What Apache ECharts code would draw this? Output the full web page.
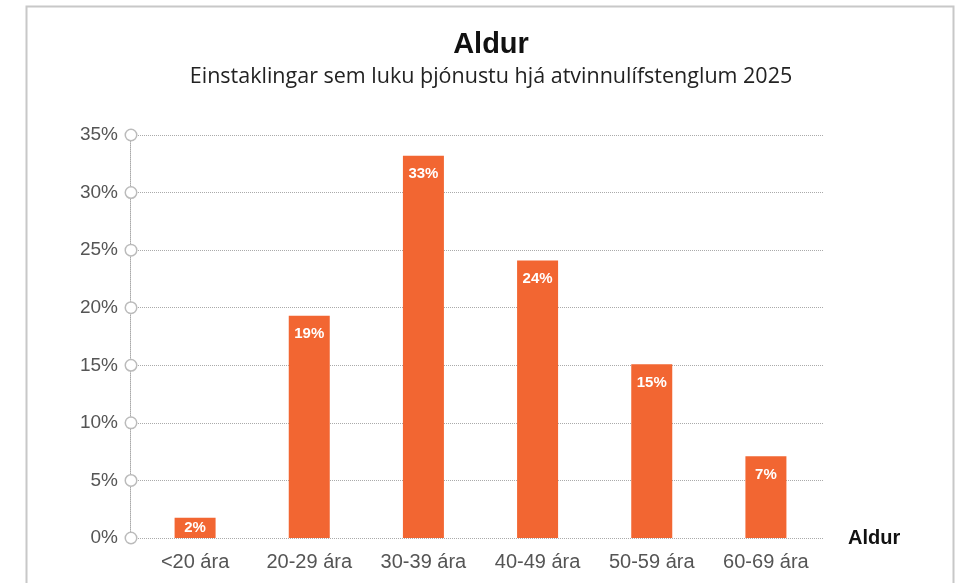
<!DOCTYPE html>
<html>
<head>
<meta charset="utf-8">
<script src="https://cdn.jsdelivr.net/npm/echarts@6/dist/echarts.min.js"></script>
<style>
  html, body { margin: 0; padding: 0; background: #fff; }
  #chart { width: 969px; height: 583px; }
</style>
</head>
<body>
<div id="chart"></div>
<script>
// aldursflokkar og hlutfall (%)
const categories = ["<20 ára", "20-29 ára", "30-39 ára", "40-49 ára", "50-59 ára", "60-69 ára"];
const shares = [1.75, 19.3, 33.2, 24.1, 15.1, 7.1];
const shareLabels = ["2%", "19%", "33%", "24%", "15%", "7%"];
const yTicks = [0, 5, 10, 15, 20, 25, 30, 35];

const chart = echarts.init(document.getElementById("chart"));
const font = "'Liberation Sans', Arial, sans-serif";

const option = {
  animation: false,
  textStyle: { fontFamily: font },
  title: [
    {
      text: "Aldur",
      left: 486,
      top: 25,
      textAlign: "center",
      textStyle: { fontSize: 29, fontWeight: "bold", color: "#111", fontFamily: font },
    },
    {
      text: "Einstaklingar sem luku þjónustu hjá atvinnulífstenglum 2025",
      left: 486,
      top: 61,
      textAlign: "center",
      textStyle: { fontSize: 21.5, fontWeight: "normal", color: "#222", fontFamily: "'Open Sans', sans-serif" },
    },
  ],
  graphic: [
    {
      type: "rect",
      shape: { x: 26.5, y: 6.5, width: 927, height: 640 },
      style: { fill: "none", stroke: "#c8c8c8", lineWidth: 2 },
      silent: true,
    },
  ],
  grid: { left: 138, right: 146, top: 135, bottom: 45 },
  xAxis: {
    type: "category",
    data: categories,
    name: "Aldur",
    nameLocation: "end",
    nameGap: 25,
    nameTextStyle: { fontSize: 20, fontWeight: "bold", color: "#111", fontFamily: font },
    axisLine: { show: false },
    axisTick: { show: false },
    axisLabel: { color: "#555", fontSize: 20, margin: 14, fontFamily: font },
  },
  yAxis: {
    type: "value",
    min: 0,
    max: 35,
    interval: 5,
    offset: 8,
    axisLine: { show: true, lineStyle: { color: "#aaa", type: "dotted", width: 1 } },
    axisTick: { show: false },
    splitLine: { lineStyle: { color: "#aaa", type: "dotted", width: 1 } },
    axisLabel: {
      margin: -6,
      formatter: (v) => (yTicks.includes(v) ? "{v|" + v + "%}{c|}" : ""),
      rich: {
        v: { color: "#555", fontSize: 19, fontFamily: font, padding: [0, 8, 0, 0] },
        c: {
          width: 10,
          height: 10,
          borderRadius: 7,
          borderColor: "#bbb",
          borderWidth: 1.5,
          backgroundColor: "#fff",
        },
      },
    },
  },
  series: [
    {
      type: "bar",
      data: shares.map((v) => (v < 5 ? { value: v, label: { position: "inside" } } : v)),
      barWidth: 41,
      itemStyle: { color: "#F26632" },
      label: {
        show: true,
        position: "insideTop",
        distance: 11,
        color: "#fff",
        fontSize: 15,
        fontWeight: "bold",
        fontFamily: font,
        formatter: (p) => shareLabels[p.dataIndex],
      },
    },
  ],
};
chart.setOption(option);
</script>
</body>
</html>
